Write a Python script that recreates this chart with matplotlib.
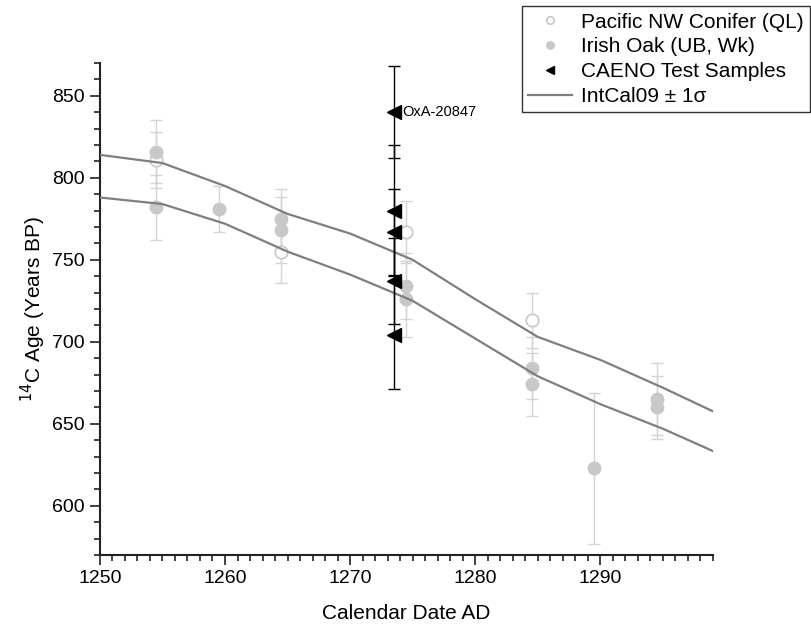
import matplotlib
matplotlib.use("Agg")
import matplotlib.pyplot as plt
from matplotlib.ticker import MultipleLocator
import numpy as np

plt.rcParams['font.family'] = ['Liberation Sans', 'DejaVu Sans']

# IntCal09 +/- 1 sigma envelope
cal_years = [1250, 1255, 1260, 1265, 1270, 1275, 1280, 1285, 1290, 1295, 1300]
cal_upper = [814, 809, 795, 778, 766, 750, 726, 703, 689, 672, 654]
cal_lower = [788, 784, 772, 755, 741, 725, 702, 679, 662, 647, 630]

# Pacific NW Conifer (QL) - open circles
conifer_x = [1254.5, 1264.5, 1274.5, 1284.5]
conifer_y = [811, 755, 767, 713]
conifer_err = [17, 19, 19, 17]

# Irish Oak (UB, Wk) - filled circles
oak_x = [1254.5, 1254.5, 1259.5, 1264.5, 1264.5, 1274.5, 1274.5, 1284.5, 1284.5, 1289.5, 1294.5, 1294.5]
oak_y = [816, 782, 781, 775, 768, 734, 726, 684, 674, 623, 665, 660]
oak_err = [19, 20, 14, 18, 20, 20, 23, 19, 19, 46, 22, 19]

# CAENO test samples
caeno_x = [1273.5, 1273.5, 1273.5, 1273.5, 1273.5]
caeno_y = [840, 780, 767, 737, 704]
caeno_err = [28, 40, 26, 26, 33]
caeno_label = 'OxA-20847'

grey = '#c8c8c8'

fig = plt.figure(figsize=(8.12, 6.3), dpi=100)
ax = fig.add_axes([0.123, 0.119, 0.755, 0.781])

ax.plot(cal_years, cal_upper, color='#7f7f7f', lw=1.6, label='IntCal09 ± 1σ', zorder=3)
ax.plot(cal_years, cal_lower, color='#7f7f7f', lw=1.6, zorder=3)

ax.errorbar(oak_x, oak_y, yerr=oak_err, fmt='none', ecolor='#d4d4d4', elinewidth=1, capsize=4, capthick=1, zorder=1)
ax.errorbar(conifer_x, conifer_y, yerr=conifer_err, fmt='none', ecolor='#d4d4d4', elinewidth=1, capsize=4, capthick=1, zorder=1)
ax.plot(conifer_x, conifer_y, 'o', ms=9, mfc='white', mec=grey, mew=1.2, zorder=2, label='Pacific NW Conifer (QL)')
ax.plot(oak_x, oak_y, 'o', ms=9, mfc=grey, mec=grey, zorder=2, label='Irish Oak (UB, Wk)')

ax.errorbar(caeno_x, caeno_y, yerr=caeno_err, fmt='none', ecolor='black', elinewidth=1, capsize=4, capthick=1, zorder=4)
ax.plot(caeno_x, caeno_y, '<', ms=10, color='black', zorder=5, label='CAENO Test Samples')
ax.text(caeno_x[0] + 0.7, caeno_y[0], caeno_label, fontsize=10.5, va='center', ha='left')

ax.set_xlim(1250, 1299)
ax.set_ylim(570, 870)
ax.xaxis.set_major_locator(MultipleLocator(10))
ax.xaxis.set_minor_locator(MultipleLocator(1))
ax.yaxis.set_major_locator(MultipleLocator(50))
ax.yaxis.set_minor_locator(MultipleLocator(10))
ax.tick_params(which='major', length=7.5, width=1.2, labelsize=14, color='#222222')
ax.tick_params(which='minor', length=4.5, width=1.2, color='#222222')
for s in ['top', 'right']:
    ax.spines[s].set_visible(False)
for s in ['left', 'bottom']:
    ax.spines[s].set_linewidth(1.5)
    ax.spines[s].set_color('#222222')

ax.set_xlabel('Calendar Date AD', fontsize=15, labelpad=12)
ax.set_ylabel(r'$^{14}$C Age (Years BP)', fontsize=15, labelpad=3)

h, l = ax.get_legend_handles_labels()
order = [1, 2, 3, 0]
leg = fig.legend([h[i] for i in order], [l[i] for i in order], loc='upper left',
                 bbox_to_anchor=(0.643, 0.99), fontsize=15, frameon=True, fancybox=False,
                 edgecolor='black', borderaxespad=0, labelspacing=0.28, handlelength=2.1,
                 handletextpad=0.45, borderpad=0.3, markerscale=0.6)
leg.get_frame().set_linewidth(1)

fig.savefig('out.png', dpi=100)
